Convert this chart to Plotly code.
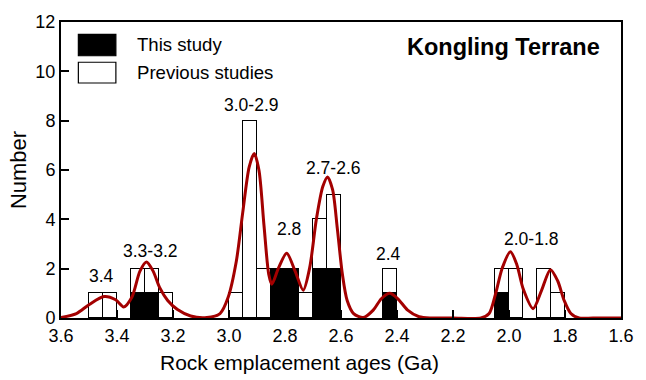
import plotly.graph_objects as go

# ---------------- data ----------------
bin_centers = [3.475, 3.425, 3.325, 3.275, 3.225, 2.975, 2.925, 2.875, 2.825,
               2.775, 2.725, 2.675, 2.625, 2.425, 2.025, 1.975, 1.875, 1.825]
this_study = [0, 0, 1, 1, 0, 0, 0, 0, 2, 2, 0, 2, 2, 1, 1, 0, 0, 0]
previous_studies = [1, 1, 1, 1, 1, 1, 8, 2, 0, 0, 1, 2, 3, 1, 1, 2, 2, 1]
bin_width = 0.05

curve_age = [3.60, 3.545, 3.499, 3.446, 3.405, 3.376, 3.347, 3.318, 3.295, 3.271,
             3.248, 3.219, 3.184, 3.137, 3.079, 3.032, 3.003, 2.974, 2.951, 2.928,
             2.910, 2.893, 2.875, 2.858, 2.847, 2.823, 2.794, 2.764, 2.735, 2.712,
             2.688, 2.665, 2.648, 2.630, 2.613, 2.595, 2.578, 2.555, 2.520, 2.485,
             2.456, 2.426, 2.397, 2.362, 2.321, 2.275, 2.20, 2.10, 2.071, 2.048,
             2.024, 1.995, 1.972, 1.949, 1.914, 1.884, 1.852, 1.826, 1.803, 1.779,
             1.750, 1.70, 1.60]
curve_value = [0.02, 0.18, 0.55, 0.87, 0.74, 0.45, 0.84, 1.90, 2.27, 1.90,
               1.24, 0.71, 0.34, 0.08, 0.02, 0.18, 0.84, 2.29, 4.27, 6.12,
               6.67, 5.99, 3.75, 1.77, 1.37, 2.03, 2.62, 1.90, 1.13, 2.03,
               4.00, 5.33, 5.72, 5.20, 3.61, 1.77, 0.71, 0.18, 0.02, 0.32,
               0.78, 1.00, 0.78, 0.32, 0.05, 0.0, 0.0, 0.0, 0.18, 0.98,
               2.03, 2.69, 2.16, 1.17, 0.38, 1.11, 1.96, 1.50, 0.71, 0.18,
               0.0, 0.0, 0.0]

peak_labels = ["3.4", "3.3-3.2", "3.0-2.9", "2.8", "2.7-2.6", "2.4", "2.0-1.8"]
peak_label_age = [3.454, 3.281, 2.922, 2.785, 2.630, 2.429, 1.921]
peak_label_y = [1.70, 2.73, 8.63, 3.61, 6.10, 2.58, 3.22]

x_ticks = [3.6, 3.4, 3.2, 3.0, 2.8, 2.6, 2.4, 2.2, 2.0, 1.8, 1.6]
y_ticks = [0, 2, 4, 6, 8, 10, 12]

FONT = "Liberation Sans, Arial, sans-serif"

def nz(v):
    return [None if c == 0 else c for c in v]

fig = go.Figure()
fig.add_trace(go.Bar(x=bin_centers, y=nz(this_study), width=bin_width,
                     marker=dict(color="black", line=dict(color="black", width=1.2)),
                     name="This study", showlegend=False))
fig.add_trace(go.Bar(x=bin_centers, y=nz(previous_studies), width=bin_width,
                     marker=dict(color="white", line=dict(color="black", width=1.2)),
                     name="Previous studies", showlegend=False))
fig.add_trace(go.Scatter(x=curve_age, y=curve_value, mode="lines",
                         line=dict(color="#a30000", width=3, shape="spline", smoothing=0.8),
                         showlegend=False, hoverinfo="skip"))

for t, ax_, ay_ in zip(peak_labels, peak_label_age, peak_label_y):
    fig.add_annotation(x=ax_, y=ay_, text=t, showarrow=False,
                       font=dict(size=17.5, color="black", family=FONT),
                       xanchor="center", yanchor="middle")

# custom legend
fig.add_shape(type="rect", xref="paper", yref="paper", x0=0.031, x1=0.098,
              y0=0.886, y1=0.958, fillcolor="black", line=dict(color="black", width=1.2))
fig.add_shape(type="rect", xref="paper", yref="paper", x0=0.031, x1=0.098,
              y0=0.794, y1=0.864, fillcolor="white", line=dict(color="black", width=1.2))
fig.add_annotation(xref="paper", yref="paper", x=0.132, y=0.923, text="This study",
                   showarrow=False, xanchor="left", yanchor="middle",
                   font=dict(size=18.6, color="black", family=FONT))
fig.add_annotation(xref="paper", yref="paper", x=0.132, y=0.828, text="Previous studies",
                   showarrow=False, xanchor="left", yanchor="middle",
                   font=dict(size=18.6, color="black", family=FONT))
fig.add_annotation(xref="paper", yref="paper", x=0.966, y=0.915, text="<b>Kongling Terrane</b>",
                   showarrow=False, xanchor="right", yanchor="middle",
                   font=dict(size=23.5, color="black", family=FONT))

# x-axis title (offset to the left as in the reference)
fig.add_annotation(xref="paper", yref="paper", x=0.425, y=-0.149,
                   text="Rock emplacement ages (Ga)", showarrow=False,
                   xanchor="center", yanchor="middle",
                   font=dict(size=21, color="black", family=FONT))

fig.update_layout(
    width=646, height=380,
    margin=dict(l=61, r=13, t=15, b=62),
    barmode="stack", bargap=0,
    plot_bgcolor="white", paper_bgcolor="white",
    font=dict(family=FONT, color="black"),
)
fig.update_xaxes(range=[3.6, 1.6], tickvals=x_ticks,
                 ticktext=[f"{v:.1f}" for v in x_ticks],
                 ticks="inside", ticklen=8, tickwidth=1.5, tickcolor="black",
                 showline=True, linewidth=2, linecolor="black", mirror=True,
                 showgrid=False, zeroline=False,
                 tickfont=dict(size=18, family=FONT, color="black"))
fig.update_yaxes(range=[0, 12], tickvals=y_ticks,
                 ticks="inside", ticklen=8, tickwidth=1.5, tickcolor="black",
                 showline=True, linewidth=2, linecolor="black", mirror=True,
                 showgrid=False, zeroline=False,
                 tickfont=dict(size=18, family=FONT, color="black"),
                 title=dict(text="Number", standoff=3,
                            font=dict(size=22, family=FONT, color="black")))

fig.write_html("out.html")
